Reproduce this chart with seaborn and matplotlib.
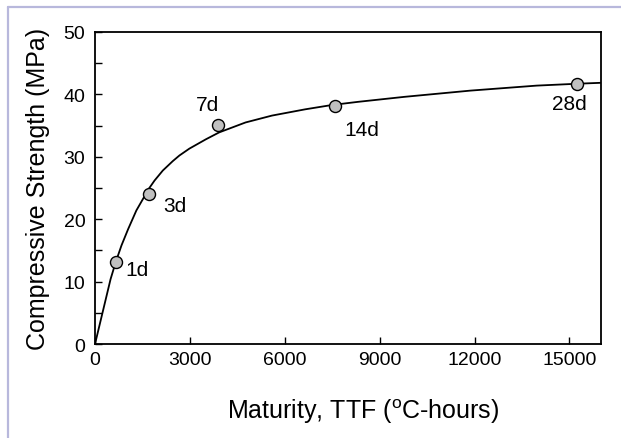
import pandas as pd
import seaborn as sns
import matplotlib.pyplot as plt
from matplotlib.lines import Line2D

# measured strength at each age
ages = ['1d', '3d', '7d', '14d', '28d']
ttf_points = [659, 1704, 3900, 7584, 15240]
strength_points = [13.2, 24.0, 35.1, 38.1, 41.7]

# strength-maturity curve
ttf_curve = [0, 241, 492, 659, 837, 1046, 1307, 1704, 1883, 2144, 2457, 2667,
             2981, 3505, 3922, 4550, 4760, 5595, 5805, 6643, 7374, 7584, 8315,
             9780, 11870, 13963, 15240, 16000]
strength_curve = [0, 5.1, 10.4, 13.2, 15.8, 18.4, 21.4, 24.9, 26.2, 27.8, 29.3, 30.2,
                  31.3, 32.8, 33.9, 35.1, 35.5, 36.6, 36.8, 37.6, 38.2, 38.35, 38.8,
                  39.6, 40.6, 41.4, 41.7, 41.85]

# label offsets (pixels) for the age annotations
label_offsets = [(21, -8), (26, -11), (-11, 20), (27, -23), (-8, -20)]

sns.set_style('ticks')
plt.rcParams['font.family'] = ['Liberation Sans', 'DejaVu Sans']
plt.rcParams['mathtext.fontset'] = 'custom'
plt.rcParams['mathtext.rm'] = 'Liberation Sans'
for key in ['text.color', 'axes.labelcolor', 'xtick.color', 'ytick.color',
            'xtick.labelcolor', 'ytick.labelcolor']:
    plt.rcParams[key] = 'black'

df_curve = pd.DataFrame({'ttf': ttf_curve, 'strength': strength_curve})
df_pts = pd.DataFrame({'ttf': ttf_points, 'strength': strength_points, 'age': ages})

fig = plt.figure(figsize=(6.21, 4.39), dpi=100)
ax = fig.add_axes([0.153, 0.214, 0.815, 0.711])

sns.lineplot(x='ttf', y='strength', data=df_curve, color='black', lw=1.3, ax=ax)
sns.scatterplot(x='ttf', y='strength', data=df_pts, s=75, color='#c0c0c0',
                edgecolor='black', linewidth=1.0, zorder=5, ax=ax)

for (age, x, y), off in zip(zip(ages, ttf_points, strength_points), label_offsets):
    ax.annotate(age, (x, y), xytext=off, textcoords='offset pixels',
                ha='center', va='center', fontsize=15)

ax.set_xlim(0, 16000)
ax.set_ylim(0, 50)
ax.set_xticks([0, 3000, 6000, 9000, 12000, 15000])
ax.set_yticks([0, 10, 20, 30, 40, 50])
ax.set_yticks([5, 15, 25, 35, 45], minor=True)
ax.tick_params(direction='in', length=5, width=1, labelsize=14)
ax.tick_params(axis='x', pad=5)
ax.tick_params(axis='y', pad=7)
ax.tick_params(which='minor', direction='in', length=5, width=1)
for s in ax.spines.values():
    s.set_linewidth(1.3)
    s.set_color('black')
ax.set_xlabel('Maturity, TTF ($^\\mathrm{o}$C-hours)', fontsize=18)
ax.xaxis.set_label_coords(0.529, -0.168)
ax.set_ylabel('Compressive Strength (MPa)', fontsize=18, labelpad=10)

# lavender frame on top and left
frame_col = '#b8b8dc'
fig.add_artist(Line2D([8 / 621, 1], [1 - 8 / 439, 1 - 8 / 439], color=frame_col, lw=1.6))
fig.add_artist(Line2D([8 / 621, 8 / 621], [0, 1 - 8 / 439], color=frame_col, lw=1.6))

plt.savefig('out.png', dpi=100)
